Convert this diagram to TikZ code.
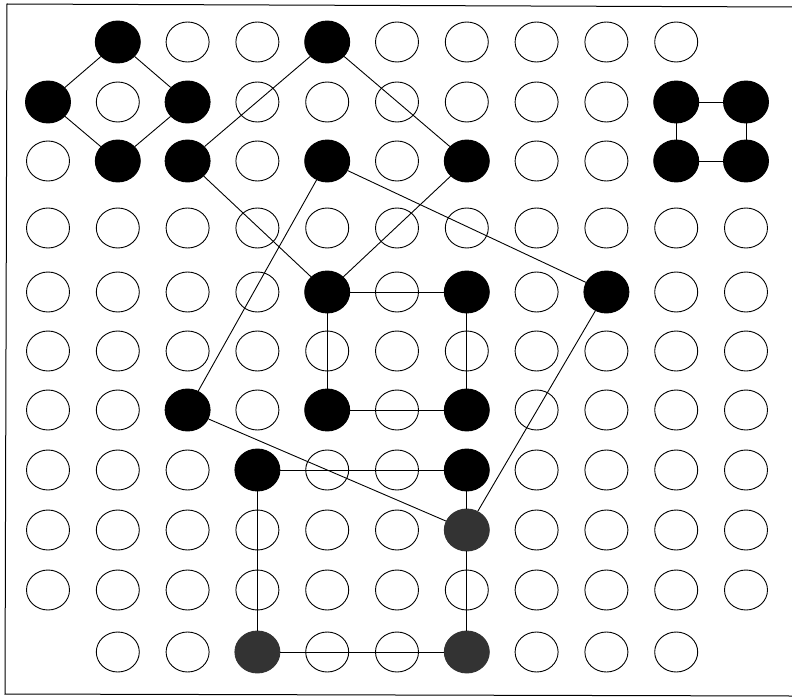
\documentclass[tikz,border=0pt]{standalone}
\usetikzlibrary{shapes.geometric}
\tikzset{
  spot/.style={ellipse, draw, line width=0.9pt, minimum width=43pt, minimum height=40pt, inner sep=0pt},
  dot/.style={spot, fill=black, minimum width=45pt, minimum height=42pt},
  greydot/.style={dot, fill=black!80, draw=black!80},
  link/.style={line width=0.9pt},
}
\begin{document}
\begin{tikzpicture}[x=1pt,y=-1pt]
  \useasboundingbox (0,0) rectangle (792,698);
  % Frame (open on the right)
  \draw[line width=1pt] (792,7) -- (7,4) -- (5,694) -- (792,696);
  % Grid of open spots
  \foreach \r/\y in {1/42,2/102,3/161,4/228,5/292,6/351,7/410,8/470,9/530,10/590,11/652}
    \foreach \c in {1,...,11} {
      \pgfmathsetmacro\xx{48+69.8*(\c-1)}
      \pgfmathtruncatemacro\corner{((\r==1)||(\r==11))&&((\c==1)||(\c==11))}
      \ifnum\corner=0 \node[spot] (p\c-\r) at (\xx,\y) {}; \fi
    }
  % Filled spots
  \foreach \c/\r in {2/1,5/1,1/2,3/2,10/2,11/2,2/3,3/3,5/3,7/3,10/3,11/3,5/5,7/5,9/5,3/7,5/7,7/7,4/8,7/8}
    \node[dot] (p\c-\r) at (p\c-\r) {};
  \foreach \c/\r in {7/9,4/11,7/11}
    \node[greydot] (p\c-\r) at (p\c-\r) {};
  % Top left diamonds
  \draw[link] (p1-2) -- (p2-1) -- (p3-2) -- (p2-3) -- (p1-2);
  \draw[link] (p3-3) -- (p5-1) -- (p7-3) -- (p5-5) -- (p3-3);
  % Middle square
  \draw[link] (p5-5) -- (p7-5) -- (p7-7) -- (p5-7) -- (p5-5);
  % Long links
  \draw[link] (p5-3) -- (p3-7);
  \draw[link] (p5-3) -- (p9-5) -- (p7-9);
  \draw[link] (p3-7) -- (p7-9);
  % Bottom loop
  \draw[link] (p4-8) -- (p7-8) -- (p7-9) -- (p7-11) -- (p4-11) -- (p4-8);
  % Top right square
  \draw[link] (p10-2) -- (p11-2) -- (p11-3) -- (p10-3) -- (p10-2);
\end{tikzpicture}
\end{document}
